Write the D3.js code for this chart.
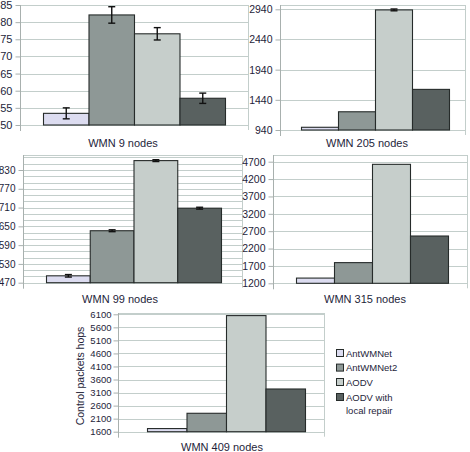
<!DOCTYPE html>
<html><head><meta charset="utf-8">
<script src="https://cdn.jsdelivr.net/npm/d3@7"></script>
<style>
html,body{margin:0;padding:0;background:#fff;}
svg{display:block;font-family:"Liberation Sans",Arial,sans-serif;}
</style></head>
<body><svg id="chart" width="470" height="452"></svg>
<script>
// ---- data ----
const series = ["AntWMNet", "AntWMNet2", "AODV", "AODV with local repair"];
const colors = ["#dcdcf0", "#8e9896", "#c6cecb", "#596160"];
const titles = ["WMN 9 nodes", "WMN 205 nodes", "WMN 99 nodes", "WMN 315 nodes", "WMN 409 nodes"];
const values9 = [53.4, 82.1, 76.6, 57.8];
const err9 = [1.6, 2.4, 1.8, 1.5];
const values205 = [985, 1242, 2930, 1613];
const err205 = [0, 0, 15, 0];
const values99 = [492, 636, 860, 708];
const err99 = [4, 3, 3, 3];
const values315 = [1350, 1795, 4624, 2561];
const err315 = [0, 0, 0, 0];
const values409 = [1720, 2306, 6050, 3237];
const err409 = [0, 0, 0, 0];
const ticks9 = [50, 55, 60, 65, 70, 75, 80, 85];
const ticks205 = [940, 1440, 1940, 2440, 2940];
const ticks99 = [470, 530, 590, 650, 710, 770, 830];
const grid99 = d3.range(470, 871, 20);
const ticks315 = [1200, 1700, 2200, 2700, 3200, 3700, 4200, 4700];
const ticks409 = [1600, 2100, 2600, 3100, 3600, 4100, 4600, 5100, 5600, 6100];
const yTitle = "Control packets hops";

// ---- layout ----
const panels = [
  {title: titles[0], vals: values9, errs: err9, ticks: ticks9, grid: ticks9,
   dom: [50, 85], yr: [125, 5], top: 5, x0: 20, x1: 248, bx0: 43, bx1: 225, fs: 11, pad: 3, tx: 123, ty: 147},
  {title: titles[1], vals: values205, errs: err205, ticks: ticks205, grid: ticks205,
   dom: [940, 2940], yr: [130, 9.3], top: 5, x0: 280, x1: 465, bx0: 301, bx1: 449, fs: 10.5, pad: 3, tx: 367, ty: 147},
  {title: titles[2], vals: values99, errs: err99, ticks: ticks99, grid: grid99,
   dom: [470, 830], yr: [282.7, 170], top: 155, x0: 23, x1: 242, bx0: 46, bx1: 221, fs: 10, pad: 3, tx: 120, ty: 303},
  {title: titles[3], vals: values315, errs: err315, ticks: ticks315, grid: ticks315,
   dom: [1200, 4700], yr: [283.3, 161.7], top: 155, x0: 273, x1: 467, bx0: 296, bx1: 448, fs: 10.5, pad: 3, tx: 365, ty: 303},
  {title: titles[4], vals: values409, errs: err409, ticks: ticks409, grid: ticks409,
   dom: [1600, 6100], yr: [431.7, 314.3], top: 313, x0: 118, x1: 324, bx0: 147, bx1: 305, fs: 9.5, pad: 2, tx: 222, ty: 451}
];

const svg = d3.select("#chart");
const gridColor = "#c3cecb";
const textColor = "#1e1e3a";

panels.forEach(p => {
  const y = d3.scaleLinear().domain(p.dom).range(p.yr);
  const x = d3.scaleBand().domain(series).range([p.bx0, p.bx1]).padding(0);
  const g = svg.append("g");
  const bottom = p.yr[0];

  // gridlines
  g.selectAll("line.grid").data(p.grid).join("line")
    .attr("x1", p.x0).attr("x2", p.x1)
    .attr("y1", d => Math.round(y(d)) + 0.5).attr("y2", d => Math.round(y(d)) + 0.5)
    .attr("stroke", gridColor).attr("stroke-width", 1);
  // frame top & right
  g.append("line").attr("x1", p.x0).attr("x2", p.x1)
    .attr("y1", p.top + 0.5).attr("y2", p.top + 0.5).attr("stroke", gridColor);
  g.append("line").attr("x1", p.x1 + 0.5).attr("x2", p.x1 + 0.5)
    .attr("y1", p.top).attr("y2", bottom + 5).attr("stroke", gridColor);

  // y axis
  const axis = d3.axisLeft(y).tickValues(p.ticks).tickSize(5).tickPadding(p.pad).tickFormat(d3.format("d"));
  const ag = g.append("g").attr("transform", `translate(${p.x0 + 0.5},0)`).call(axis);
  ag.select(".domain").attr("d", `M0,${p.top}V${bottom + 6}`).attr("stroke", "#a8b0ae");
  ag.selectAll(".tick line").attr("stroke", "#a8b0ae");
  ag.selectAll(".tick text").attr("fill", textColor).style("font-size", p.fs + "px")
    .style("font-family", "'Liberation Sans',Arial,sans-serif");

  // bars
  g.selectAll("rect.bar").data(series).join("rect")
    .attr("x", d => x(d) + 0.5)
    .attr("y", (d, i) => y(p.vals[i]))
    .attr("width", x.bandwidth())
    .attr("height", (d, i) => bottom - y(p.vals[i]))
    .attr("fill", (d, i) => colors[i])
    .attr("stroke", "#262b2a").attr("stroke-width", 1.1);

  // error bars
  series.forEach((s, i) => {
    const e = p.errs[i];
    if (!e) return;
    const cx = x(s) + x.bandwidth() / 2 + 0.5;
    const ya = y(p.vals[i] + e), yb = y(p.vals[i] - e);
    const w = 3.5;
    const eg = g.append("g").attr("stroke", "#111").attr("stroke-width", 1.4);
    eg.append("line").attr("x1", cx).attr("x2", cx).attr("y1", ya).attr("y2", yb);
    eg.append("line").attr("x1", cx - w).attr("x2", cx + w).attr("y1", ya).attr("y2", ya);
    eg.append("line").attr("x1", cx - w).attr("x2", cx + w).attr("y1", yb).attr("y2", yb);
  });

  // title
  g.append("text").attr("x", p.tx).attr("y", p.ty).attr("text-anchor", "middle")
    .attr("fill", textColor).style("font-size", "11px").text(p.title);
});

// y axis title for bottom panel
svg.append("text")
  .attr("transform", "translate(84,376) rotate(-90)")
  .attr("text-anchor", "middle").attr("fill", textColor)
  .style("font-size", "10.5px").text(yTitle);

// legend
const lg = svg.append("g").attr("transform", "translate(336,349)");
const rowY = [0, 14.6, 29, 44];
series.forEach((s, i) => {
  const r = lg.append("g").attr("transform", `translate(0,${rowY[i]})`);
  r.append("rect").attr("x", 0.5).attr("y", 0.5).attr("width", 7).attr("height", 7)
    .attr("fill", colors[i]).attr("stroke", "#262b2a").attr("stroke-width", 1);
  const t = r.append("text").attr("x", 10).attr("y", 7.5).attr("fill", textColor).style("font-size", "9.5px");
  if (i === 3) {
    t.append("tspan").text("AODV with");
    t.append("tspan").attr("x", 10).attr("dy", 13.5).text("local repair");
  } else {
    t.text(s);
  }
});
</script></body></html>
